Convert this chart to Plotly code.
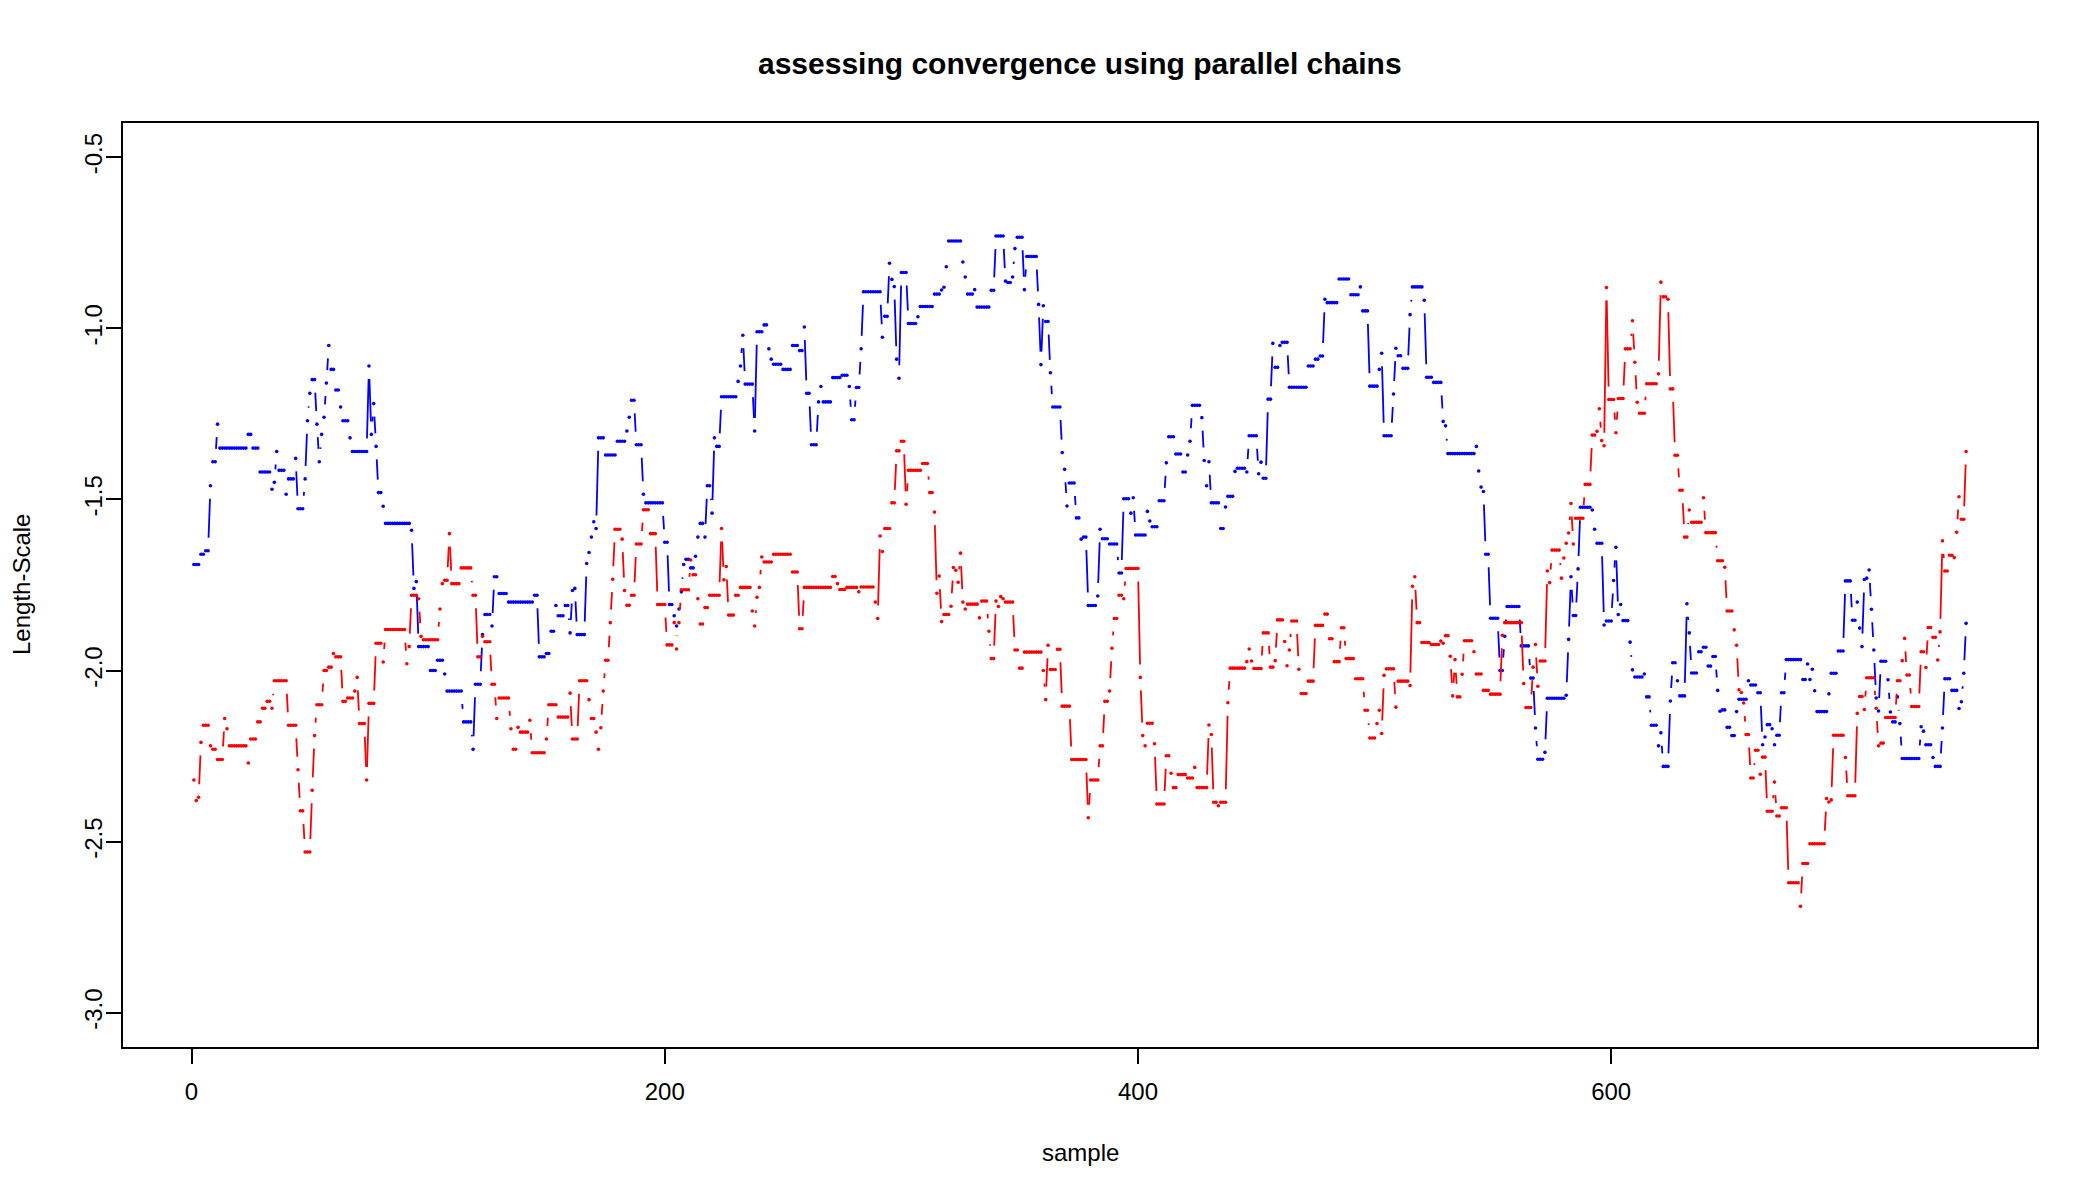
import numpy as np
import plotly.graph_objects as go

N_SAMPLES = 750

# Blue chain: sample index where a new value begins, and that value
blue_start = [1, 4, 6, 8, 9, 11, 12, 24, 26, 29, 34, 35, 36, 37, 40, 41, 44, 45, 48, 49,
              50, 51, 53, 54, 55, 56, 57, 58, 59, 61, 63, 64, 67, 68, 75, 76, 77, 78, 79, 81,
              82, 93, 94, 95, 96, 101, 104, 107, 108, 115, 119, 120, 123, 124, 127, 128, 130, 134, 145, 147,
              150, 152, 154, 155, 158, 160, 161, 162, 163, 167, 168, 169, 170, 171, 172, 175, 180, 184, 185, 186,
              188, 191, 192, 200, 202, 204, 205, 206, 207, 208, 209, 211, 213, 214, 215, 217, 218, 220, 221, 222,
              224, 231, 232, 233, 234, 238, 239, 242, 244, 245, 246, 250, 254, 257, 259, 260, 262, 265, 266, 267,
              271, 275, 278, 279, 281, 283, 284, 292, 293, 295, 296, 297, 298, 299, 300, 303, 307, 308, 314, 317,
              318, 319, 320, 326, 327, 328, 331, 332, 338, 340, 344, 345, 347, 348, 349, 352, 353, 358, 359, 360,
              361, 363, 364, 368, 369, 370, 371, 374, 376, 377, 379, 383, 384, 385, 388, 392, 394, 397, 398, 399,
              404, 405, 406, 409, 412, 413, 416, 419, 421, 422, 423, 427, 428, 429, 430, 431, 435, 437, 438, 441,
              442, 446, 447, 451, 452, 453, 455, 457, 458, 460, 461, 464, 472, 475, 477, 479, 480, 485, 490, 494,
              495, 498, 502, 503, 504, 508, 509, 510, 512, 515, 516, 521, 522, 525, 529, 530, 531, 543, 544, 545,
              546, 547, 549, 553, 555, 556, 562, 566, 568, 569, 572, 573, 581, 582, 583, 584, 586, 587, 592, 593,
              594, 597, 598, 601, 602, 603, 604, 605, 608, 609, 610, 614, 615, 617, 620, 621, 622, 625, 626, 628,
              629, 632, 633, 634, 637, 639, 641, 643, 645, 646, 647, 649, 651, 653, 654, 658, 659, 662, 664, 665,
              666, 668, 669, 670, 672, 674, 681, 683, 684, 685, 686, 687, 692, 693, 696, 699, 702, 704, 705, 706,
              707, 708, 709, 710, 711, 712, 713, 714, 717, 718, 719, 721, 722, 723, 731, 732, 733, 736, 737, 740,
              741, 744, 747, 748, 749, 750]
blue_value = [-1.69, -1.66, -1.65, -1.46, -1.39, -1.28, -1.35, -1.31, -1.35, -1.42, -1.47, -1.45, -1.36, -1.415, -1.485, -1.44, -1.38, -1.527, -1.44, -1.27,
              -1.19, -1.15, -1.28, -1.39, -1.31, -1.26, -1.16, -1.05, -1.12, -1.18, -1.23, -1.27, -1.32, -1.36, -1.11, -1.31, -1.22, -1.345, -1.48, -1.52,
              -1.57, -1.59, -1.76, -1.74, -1.93, -2.00, -1.97, -2.01, -2.06, -2.15, -2.23, -2.04, -1.895, -1.836, -1.87, -1.726, -1.775, -1.80, -1.78, -1.96,
              -1.95, -1.885, -1.81, -1.84, -1.81, -1.89, -1.766, -1.76, -1.895, -1.687, -1.655, -1.61, -1.565, -1.585, -1.32, -1.37, -1.33, -1.30, -1.26, -1.21,
              -1.34, -1.485, -1.51, -1.625, -1.807, -1.84, -1.87, -1.82, -1.77, -1.69, -1.675, -1.70, -1.666, -1.61, -1.57, -1.61, -1.46, -1.54, -1.32, -1.345,
              -1.20, -1.155, -1.11, -1.02, -1.163, -1.30, -1.01, -0.99, -1.06, -1.09, -1.105, -1.12, -1.05, -1.065, -0.996, -1.19, -1.34, -1.215, -1.17, -1.215,
              -1.144, -1.137, -1.17, -1.267, -1.173, -1.06, -0.893, -1.026, -0.965, -0.81, -0.857, -0.878, -1.09, -1.146, -0.837, -0.986, -0.966, -0.936, -0.90, -0.888,
              -0.88, -0.82, -0.745, -0.806, -0.85, -0.90, -0.887, -0.938, -0.889, -0.73, -0.862, -0.866, -0.85, -0.767, -0.734, -0.887, -0.79, -0.93, -1.106, -0.934,
              -0.98, -1.13, -1.23, -1.363, -1.412, -1.519, -1.452, -1.554, -1.616, -1.61, -1.81, -1.782, -1.587, -1.615, -1.63, -1.715, -1.498, -1.54, -1.495, -1.604,
              -1.535, -1.563, -1.58, -1.504, -1.393, -1.317, -1.367, -1.42, -1.37, -1.33, -1.225, -1.261, -1.386, -1.46, -1.39, -1.51, -1.585, -1.522, -1.491, -1.418,
              -1.409, -1.42, -1.314, -1.425, -1.391, -1.438, -1.207, -1.044, -1.114, -1.05, -1.041, -1.172, -1.11, -1.09, -1.081, -0.915, -0.925, -0.856, -0.902, -0.879,
              -0.949, -1.169, -1.12, -1.073, -1.314, -1.192, -1.058, -1.08, -1.117, -0.96, -0.879, -0.918, -1.143, -1.158, -1.272, -1.285, -1.366, -1.345, -1.417, -1.464,
              -1.477, -1.66, -1.847, -2.0, -1.90, -1.813, -1.928, -2.022, -2.168, -2.259, -2.239, -2.081, -2.072, -1.909, -1.726, -1.839, -1.703, -1.523, -1.531, -1.587,
              -1.628, -1.867, -1.855, -1.737, -1.64, -1.836, -1.807, -1.854, -1.917, -1.998, -2.019, -2.01, -2.077, -2.16, -2.22, -2.182, -2.28, -2.089, -1.977, -2.03,
              -2.074, -1.805, -1.89, -2.007, -1.945, -1.932, -1.987, -1.959, -2.058, -2.119, -2.115, -2.166, -2.19, -2.12, -2.084, -2.03, -2.042, -2.065, -2.217, -2.194,
              -2.158, -2.17, -2.217, -2.189, -2.065, -1.968, -2.026, -1.981, -2.026, -1.996, -2.059, -2.12, -2.068, -2.008, -1.943, -1.738, -1.853, -1.80, -1.876, -1.93,
              -1.734, -1.73, -1.706, -1.821, -1.94, -2.08, -2.118, -1.973, -2.027, -2.121, -2.15, -2.077, -2.155, -2.257, -2.164, -2.177, -2.217, -2.254, -2.28, -2.168,
              -2.024, -2.058, -2.111, -2.091, -2.008, -1.862]

# Red chain: sample index where a new value begins, and that value
red_start = [1, 2, 3, 4, 5, 8, 9, 11, 14, 15, 16, 24, 25, 28, 30, 32, 34, 35, 41, 45,
             46, 48, 51, 52, 53, 56, 58, 60, 61, 64, 66, 69, 70, 71, 74, 75, 78, 81, 82, 91,
             92, 93, 96, 97, 98, 105, 106, 107, 109, 110, 114, 119, 121, 123, 124, 127, 129, 130, 135, 136,
             138, 139, 143, 144, 150, 151, 155, 160, 161, 164, 168, 169, 171, 172, 173, 174, 175, 177, 178, 179,
             182, 183, 184, 186, 188, 191, 194, 197, 201, 204, 205, 206, 207, 211, 212, 214, 215, 217, 219, 224,
             225, 226, 227, 230, 232, 237, 238, 239, 240, 241, 242, 246, 254, 257, 259, 271, 273, 274, 277, 282,
             283, 289, 290, 291, 292, 293, 296, 298, 300, 302, 303, 309, 312, 314, 315, 316, 317, 318, 321, 322,
             323, 324, 325, 326, 327, 328, 333, 334, 337, 338, 340, 341, 342, 343, 344, 348, 350, 352, 360, 361,
             362, 363, 366, 368, 372, 379, 380, 384, 386, 388, 389, 390, 392, 394, 395, 401, 402, 403, 404, 407,
             408, 412, 414, 415, 417, 421, 424, 425, 430, 431, 432, 434, 435, 438, 439, 446, 447, 448, 449, 453,
             456, 458, 459, 462, 463, 464, 465, 468, 469, 472, 475, 479, 481, 483, 486, 488, 492, 496, 498, 501,
             502, 503, 504, 505, 509, 510, 515, 516, 517, 518, 520, 524, 528, 529, 530, 532, 533, 534, 535, 537,
             538, 542, 543, 546, 549, 554, 555, 563, 564, 567, 568, 569, 570, 573, 574, 575, 579, 580, 581, 582,
             583, 584, 585, 589, 592, 594, 595, 596, 597, 598, 599, 602, 603, 606, 609, 610, 611, 612, 615, 620,
             621, 622, 624, 625, 627, 629, 631, 633, 634, 639, 640, 645, 648, 649, 652, 653, 654, 655, 656, 657,
             659, 661, 663, 664, 666, 669, 670, 672, 675, 680, 681, 684, 691, 692, 693, 694, 699, 700, 704, 705,
             707, 708, 712, 713, 714, 716, 721, 723, 724, 725, 727, 731, 733, 734, 736, 738, 739, 740, 741, 743,
             745, 746, 747, 748, 750]
red_value = [-2.32, -2.38, -2.37, -2.21, -2.16, -2.22, -2.23, -2.26, -2.14, -2.17, -2.22, -2.27, -2.20, -2.15, -2.11, -2.09, -2.11, -2.03, -2.16, -2.29,
             -2.41, -2.53, -2.35, -2.19, -2.10, -2.00, -1.99, -1.95, -1.96, -2.09, -2.08, -2.06, -2.02, -2.155, -2.32, -2.096, -1.92, -1.975, -1.88, -1.98,
             -1.93, -1.78, -1.79, -1.90, -1.91, -1.82, -1.746, -1.736, -1.60, -1.746, -1.70, -1.78, -1.96, -1.90, -1.916, -2.04, -2.14, -2.08, -2.17, -2.23,
             -2.166, -2.18, -2.145, -2.24, -2.20, -2.10, -2.136, -2.066, -2.20, -2.03, -2.085, -2.14, -2.18, -2.23, -2.167, -2.06, -1.97, -1.86, -1.733, -1.587,
             -1.616, -1.766, -1.809, -1.78, -1.63, -1.53, -1.60, -1.807, -1.925, -1.86, -1.937, -1.86, -1.764, -1.677, -1.72, -1.79, -1.864, -1.816, -1.78, -1.585,
             -1.735, -1.696, -1.838, -1.78, -1.757, -1.826, -1.87, -1.786, -1.757, -1.668, -1.683, -1.66, -1.712, -1.878, -1.757, -1.725, -1.746, -1.763, -1.757, -1.77,
             -1.756, -1.80, -1.848, -1.607, -1.652, -1.585, -1.51, -1.358, -1.33, -1.514, -1.415, -1.395, -1.48, -1.537, -1.774, -1.724, -1.857, -1.836, -1.812, -1.699,
             -1.707, -1.742, -1.657, -1.80, -1.82, -1.806, -1.846, -1.797, -1.885, -1.965, -1.797, -1.813, -1.784, -1.79, -1.80, -1.94, -1.993, -1.946, -2.0, -2.085,
             -1.926, -1.997, -1.938, -2.104, -2.26, -2.43, -2.32, -2.22, -2.09, -2.06, -1.935, -1.848, -1.78, -1.79, -1.702, -2.02, -2.19, -2.22, -2.154, -2.214,
             -2.39, -2.249, -2.30, -2.342, -2.304, -2.314, -2.283, -2.342, -2.159, -2.187, -2.385, -2.395, -2.385, -2.094, -1.993, -1.974, -1.937, -1.972, -1.994, -1.89,
             -1.99, -1.971, -1.852, -1.915, -1.986, -1.94, -1.855, -1.996, -2.067, -2.031, -1.868, -1.835, -1.907, -1.974, -1.875, -1.965, -2.024, -2.116, -2.197, -2.155,
             -2.116, -2.184, -2.014, -1.995, -2.107, -2.031, -2.044, -1.754, -1.726, -1.86, -1.918, -1.924, -1.914, -1.92, -1.898, -1.958, -2.074, -1.968, -2.077, -2.011,
             -1.913, -1.945, -2.01, -2.058, -2.069, -1.897, -1.86, -2.038, -2.108, -1.99, -1.924, -2.046, -1.972, -1.709, -1.743, -1.648, -1.73, -1.671, -1.628, -1.598,
             -1.512, -1.63, -1.555, -1.456, -1.312, -1.301, -1.235, -1.328, -1.343, -0.881, -1.208, -1.305, -1.205, -1.06, -0.978, -1.099, -1.216, -1.248, -1.162, -1.133,
             -0.865, -0.908, -0.915, -1.177, -1.371, -1.473, -1.61, -1.531, -1.567, -1.495, -1.597, -1.679, -1.698, -1.826, -1.881, -1.926, -2.056, -2.064, -2.095, -2.187,
             -2.314, -2.233, -2.303, -2.253, -2.411, -2.326, -2.425, -2.401, -2.62, -2.689, -2.564, -2.506, -2.374, -2.384, -2.378, -2.189, -2.254, -2.366, -2.125, -2.076,
             -2.114, -2.021, -2.11, -2.22, -2.212, -2.137, -2.03, -1.971, -1.906, -2.013, -2.105, -1.945, -1.991, -1.874, -1.903, -1.969, -1.887, -1.621, -1.709, -1.663,
             -1.67, -1.596, -1.492, -1.558, -1.36]

x_ticks = [0, 200, 400, 600]
x_tick_labels = ["0", "200", "400", "600"]
y_ticks = [-3.0, -2.5, -2.0, -1.5, -1.0, -0.5]
y_tick_labels = ["-3.0", "-2.5", "-2.0", "-1.5", "-1.0", "-0.5"]

TITLE = "assessing convergence using parallel chains"
XLAB = "sample"
YLAB = "Length-Scale"


def expand(starts, values, n):
    out = np.empty(n)
    for k, (s, v) in enumerate(zip(starts, values)):
        e = starts[k + 1] if k + 1 < len(starts) else n + 1
        out[s - 1:e - 1] = v
    return out


samples = np.arange(1, N_SAMPLES + 1)
blue = expand(blue_start, blue_value, N_SAMPLES)
red = expand(red_start, red_value, N_SAMPLES)

# figure geometry (R-like: 4% axis extension, ylim = c(-3, -0.5))
W, H = 2100, 1200
ML, MR, MT, MB = 123, 63, 123, 153
PW, PH = W - ML - MR, H - MT - MB
xr = [1 - 0.04 * (N_SAMPLES - 1), N_SAMPLES + 0.04 * (N_SAMPLES - 1)]
yr = [-3.0 - 0.04 * 2.5, -0.5 + 0.04 * 2.5]
sx = PW / (xr[1] - xr[0])
sy = PH / (yr[1] - yr[0])
GAP = 13.0  # px gap around points, like R type="b"


def gapped(x, y):
    xs, ys = [], []
    for i in range(len(x) - 1):
        ddx, ddy = x[i + 1] - x[i], y[i + 1] - y[i]
        L = np.hypot(ddx * sx, ddy * sy)
        if L > 2 * GAP:
            f = GAP / L
            xs += [x[i] + f * ddx, x[i + 1] - f * ddx, None]
            ys += [y[i] + f * ddy, y[i + 1] - f * ddy, None]
    return xs, ys


fig = go.Figure()
for vals, col in [(blue, "#0000FF"), (red, "#FF0000")]:
    lx, ly = gapped(samples, vals)
    fig.add_trace(go.Scatter(x=lx, y=ly, mode="lines",
                             line=dict(color=col, width=1.8),
                             hoverinfo="skip", showlegend=False))
    fig.add_trace(go.Scatter(x=samples, y=vals, mode="markers",
                             marker=dict(color=col, size=3.6, line=dict(width=0)),
                             showlegend=False))

FONT = "Liberation Sans, Arial, Helvetica, sans-serif"
axis_common = dict(showgrid=False, zeroline=False, showline=True, mirror=True,
                   linecolor="black", linewidth=1.5, ticks="outside", ticklen=15,
                   tickwidth=1.5, tickcolor="black",
                   tickfont=dict(family=FONT, size=24, color="black"))

fig.update_layout(
    width=W, height=H,
    margin=dict(l=ML, r=MR, t=MT, b=MB),
    paper_bgcolor="white", plot_bgcolor="white",
    xaxis=dict(range=xr, tickvals=x_ticks, ticktext=x_tick_labels,
               ticklabelstandoff=7, **axis_common),
    yaxis=dict(range=yr, tickvals=y_ticks, ticktext=y_tick_labels, tickangle=-90,
               ticklabelstandoff=-5, **axis_common),
    annotations=[
        dict(text="<b>" + TITLE + "</b>", xref="paper", yref="paper", x=0.5,
             y=(H - MB - 63) / PH, xanchor="center", yanchor="middle", showarrow=False,
             font=dict(family=FONT, size=30, color="black")),
        dict(text=XLAB, xref="paper", yref="paper", x=0.5, y=-(1152 - (H - MB)) / PH,
             xanchor="center", yanchor="middle", showarrow=False,
             font=dict(family=FONT, size=24, color="black")),
        dict(text=YLAB, xref="paper", yref="paper", x=(21 - ML) / PW, y=0.5,
             xanchor="center", yanchor="middle", textangle=-90, showarrow=False,
             font=dict(family=FONT, size=24, color="black")),
    ],
)

fig.write_html("out.html")
